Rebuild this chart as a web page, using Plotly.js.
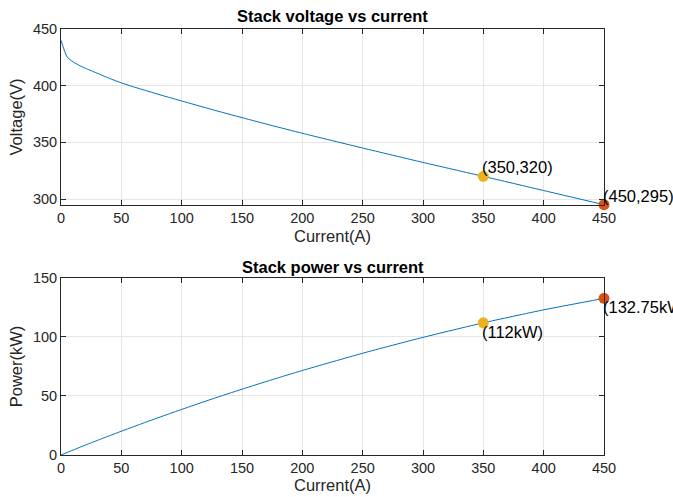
<!DOCTYPE html>
<html><head><meta charset="utf-8">
<script src="https://cdn.plot.ly/plotly-3.0.1.min.js"></script>
<style>html,body{margin:0;padding:0;background:#fff}</style>
</head><body>
<div id="chart" style="width:673px;height:497px"></div>
<script>
const current = [0, 5, 10, 15, 20, 25, 30, 40, 50, 60, 70, 80, 90, 100, 125, 150, 175, 200, 250, 300, 350, 400, 450];
const voltage = [440, 425.5, 421, 418, 415.5, 413.2, 411, 406.5, 402.5, 399, 395.8, 392.6, 389.5, 386.5, 379, 371.8, 364.8, 358, 345, 332.3, 320, 307.5, 295];
const power = [0, 2.13, 4.21, 6.27, 8.31, 10.33, 12.33, 16.26, 20.13, 23.94, 27.71, 31.41, 35.06, 38.65, 47.38, 55.77, 63.84, 71.6, 86.25, 99.69, 112, 123, 132.75];
const markI = [350, 450];
const markV = [320, 295];
const markP = [112, 132.75];
const markColors = ['#EDB120', '#D95319'];
const vLabels = ['(350,320)', '(450,295)'];
const pLabels = ['(112kW)', '(132.75kW)'];
const xTicks = [0, 50, 100, 150, 200, 250, 300, 350, 400, 450];

const font = 'Arial, "Liberation Sans", Helvetica, sans-serif';
const lineColor = '#0072BD';

const traces = [
  {x: current, y: voltage, xaxis: 'x', yaxis: 'y', mode: 'lines', line: {color: lineColor, width: 1, shape: 'spline', smoothing: 0.6}, hoverinfo: 'skip'},
  {x: current, y: power, xaxis: 'x2', yaxis: 'y2', mode: 'lines', line: {color: lineColor, width: 1, shape: 'spline', smoothing: 0.6}, hoverinfo: 'skip'}
];
for (let i = 0; i < markI.length; i++) {
  traces.push({x: [markI[i]], y: [markV[i]], xaxis: 'x', yaxis: 'y', mode: 'markers', marker: {color: markColors[i], size: 11}, cliponaxis: false});
  traces.push({x: [markI[i]], y: [markP[i]], xaxis: 'x2', yaxis: 'y2', mode: 'markers', marker: {color: markColors[i], size: 11}, cliponaxis: false});
}

const axCommon = {
  showline: true, linecolor: '#262626', linewidth: 1, mirror: 'ticks',
  ticks: 'inside', ticklen: 5, tickcolor: '#262626',
  showgrid: true, gridcolor: '#e6e6e6', gridwidth: 1, zeroline: false,
  tickfont: {family: font, size: 14.5, color: '#262626'}
};
const axTitleFont = {family: font, size: 16.5, color: '#262626'};

const annotations = [
  {text: '<b>Stack voltage vs current</b>', xref: 'paper', yref: 'paper', x: 0.5, y: 1, yshift: 2, xanchor: 'center', yanchor: 'bottom', showarrow: false, font: {family: font, size: 16.5, color: '#000'}},
  {text: '<b>Stack power vs current</b>', xref: 'paper', yref: 'paper', x: 0.5, y: 0.4155, yshift: 0, xanchor: 'center', yanchor: 'bottom', showarrow: false, font: {family: font, size: 16.5, color: '#000'}}
];
for (let i = 0; i < markI.length; i++) {
  annotations.push({text: vLabels[i], xref: 'x', yref: 'y', x: markI[i], y: markV[i], xanchor: 'left', yanchor: 'bottom', xshift: -3, yshift: -2, showarrow: false, font: {family: font, size: 16.5, color: '#000'}});
  annotations.push({text: pLabels[i], xref: 'x2', yref: 'y2', x: markI[i], y: markP[i], xanchor: 'left', yanchor: 'top', xshift: -3, yshift: 2, showarrow: false, font: {family: font, size: 16.5, color: '#000'}});
}

const layout = {
  width: 673, height: 497,
  margin: {l: 61, r: 69, t: 29, b: 42},
  paper_bgcolor: '#fff', plot_bgcolor: '#fff',
  showlegend: false,
  xaxis: Object.assign({}, axCommon, {domain: [0, 1], range: [0, 450], tickvals: xTicks, anchor: 'y',
    title: {text: 'Current(A)', font: axTitleFont, standoff: 5}}),
  yaxis: Object.assign({}, axCommon, {domain: [0.587, 1], range: [294.8, 450], tickvals: [300, 350, 400, 450], anchor: 'x',
    title: {text: 'Voltage(V)', font: axTitleFont, standoff: 6}}),
  xaxis2: Object.assign({}, axCommon, {domain: [0, 1], range: [0, 450], tickvals: xTicks, anchor: 'y2',
    title: {text: 'Current(A)', font: axTitleFont, standoff: 4}}),
  yaxis2: Object.assign({}, axCommon, {domain: [0, 0.4155], range: [0, 150], tickvals: [0, 50, 100, 150], anchor: 'x2',
    title: {text: 'Power(kW)', font: axTitleFont, standoff: 6}}),
  annotations: annotations
};

Plotly.newPlot('chart', traces, layout, {displayModeBar: false, staticPlot: true});
</script>
</body></html>
